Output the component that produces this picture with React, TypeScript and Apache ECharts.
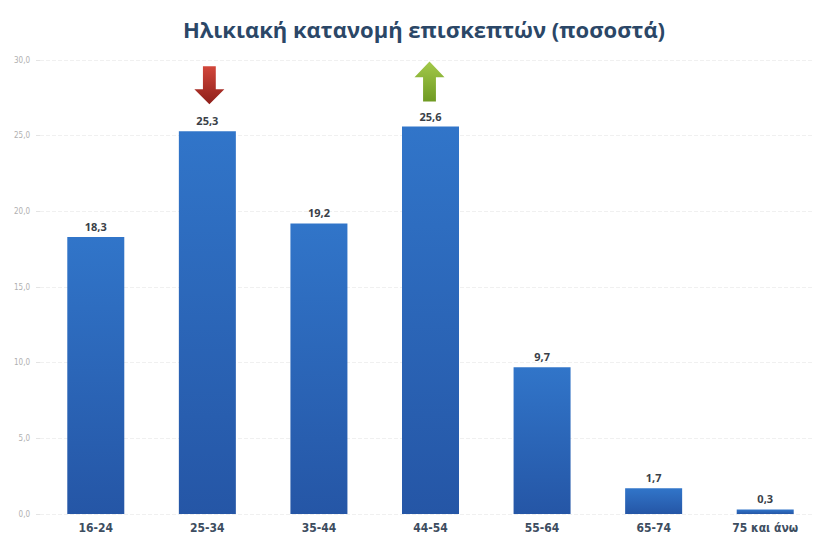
import React, { useEffect, useRef } from "react";
import * as echarts from "echarts";

const categories = ["16-24", "25-34", "35-44", "44-54", "55-64", "65-74", "75 και άνω"];
const values = [18.3, 25.3, 19.2, 25.6, 9.7, 1.7, 0.3];
const titleText = "Ηλικιακή κατανομή επισκεπτών (ποσοστά)";
const downArrowAt = { category: "25-34", value: 25.3 };
const upArrowAt = { category: "44-54", value: 25.6 };

const fmt = (v: number) => v.toFixed(1).replace(".", ",");

export default function App() {
  const ref = useRef<HTMLDivElement>(null);
  useEffect(() => {
    if (!ref.current) return;
    const chart = echarts.init(ref.current, null, { renderer: "svg" });
    chart.setOption({
      animation: false,
      backgroundColor: "#ffffff",
      title: {
        text: titleText,
        left: 178,
        top: 13,
        textStyle: {
          fontFamily: "Open Sans",
          fontWeight: "bold",
          fontSize: 22,
          color: "#2b4767",
        },
      },
      grid: { left: 40, right: -15, top: 60, bottom: 32, containLabel: false },
      xAxis: {
        type: "category",
        data: categories,
        axisLine: { show: false },
        axisTick: { show: false },
        axisLabel: {
          fontFamily: "DejaVu Sans Condensed",
          fontWeight: "bold",
          fontSize: 12,
          color: "#3d4d60",
          margin: 8,
        },
      },
      yAxis: {
        type: "value",
        min: 0,
        max: 30,
        interval: 5,
        axisLine: { show: false },
        axisTick: { show: true, length: 4, lineStyle: { color: "#e4e4e4" } },
        splitLine: { lineStyle: { color: "#f0f0f0", type: "dashed" } },
        axisLabel: {
          formatter: (v: number) => fmt(v),
          fontFamily: "DejaVu Sans Condensed",
          fontSize: 8,
          color: "#b0b0b0",
          margin: 10,
        },
      },
      series: [
        {
          type: "bar",
          data: values,
          barWidth: 57,
          itemStyle: {
            color: new echarts.graphic.LinearGradient(0, 0, 0, 1, [
              { offset: 0, color: "#3175c9" },
              { offset: 1, color: "#2556a6" },
            ]),
          },
          label: {
            show: true,
            position: "top",
            distance: 5,
            formatter: (p: any) => fmt(p.value),
            fontFamily: "Noto Sans",
            fontWeight: "bold",
            fontSize: 11,
            color: "#3a3f48",
          },
          markPoint: {
            label: { show: false },
            data: [
              {
                coord: [downArrowAt.category, downArrowAt.value],
                symbol: "path://M4,0 H10 V11 H14 L7,18 L0,11 H4 Z",
                symbolSize: [30, 38],
                symbolOffset: [2, -46],
                itemStyle: {
                  color: new echarts.graphic.LinearGradient(0, 0, 0, 1, [
                    { offset: 0, color: "#d2473b" },
                    { offset: 1, color: "#8e1f1a" },
                  ]),
                },
              },
              {
                coord: [upArrowAt.category, upArrowAt.value],
                symbol: "path://M7,0 L14,7 H10 V18 H4 V7 H0 Z",
                symbolSize: [30, 40],
                symbolOffset: [-1, -45],
                itemStyle: {
                  color: new echarts.graphic.LinearGradient(0, 0, 0, 1, [
                    { offset: 0, color: "#a3c94a" },
                    { offset: 1, color: "#6f9a22" },
                  ]),
                },
              },
            ],
          },
        },
      ],
    });
    return () => chart.dispose();
  }, []);
  return <div ref={ref} style={{ width: 821, height: 546, marginLeft: -8, marginTop: -8 }} />;
}
